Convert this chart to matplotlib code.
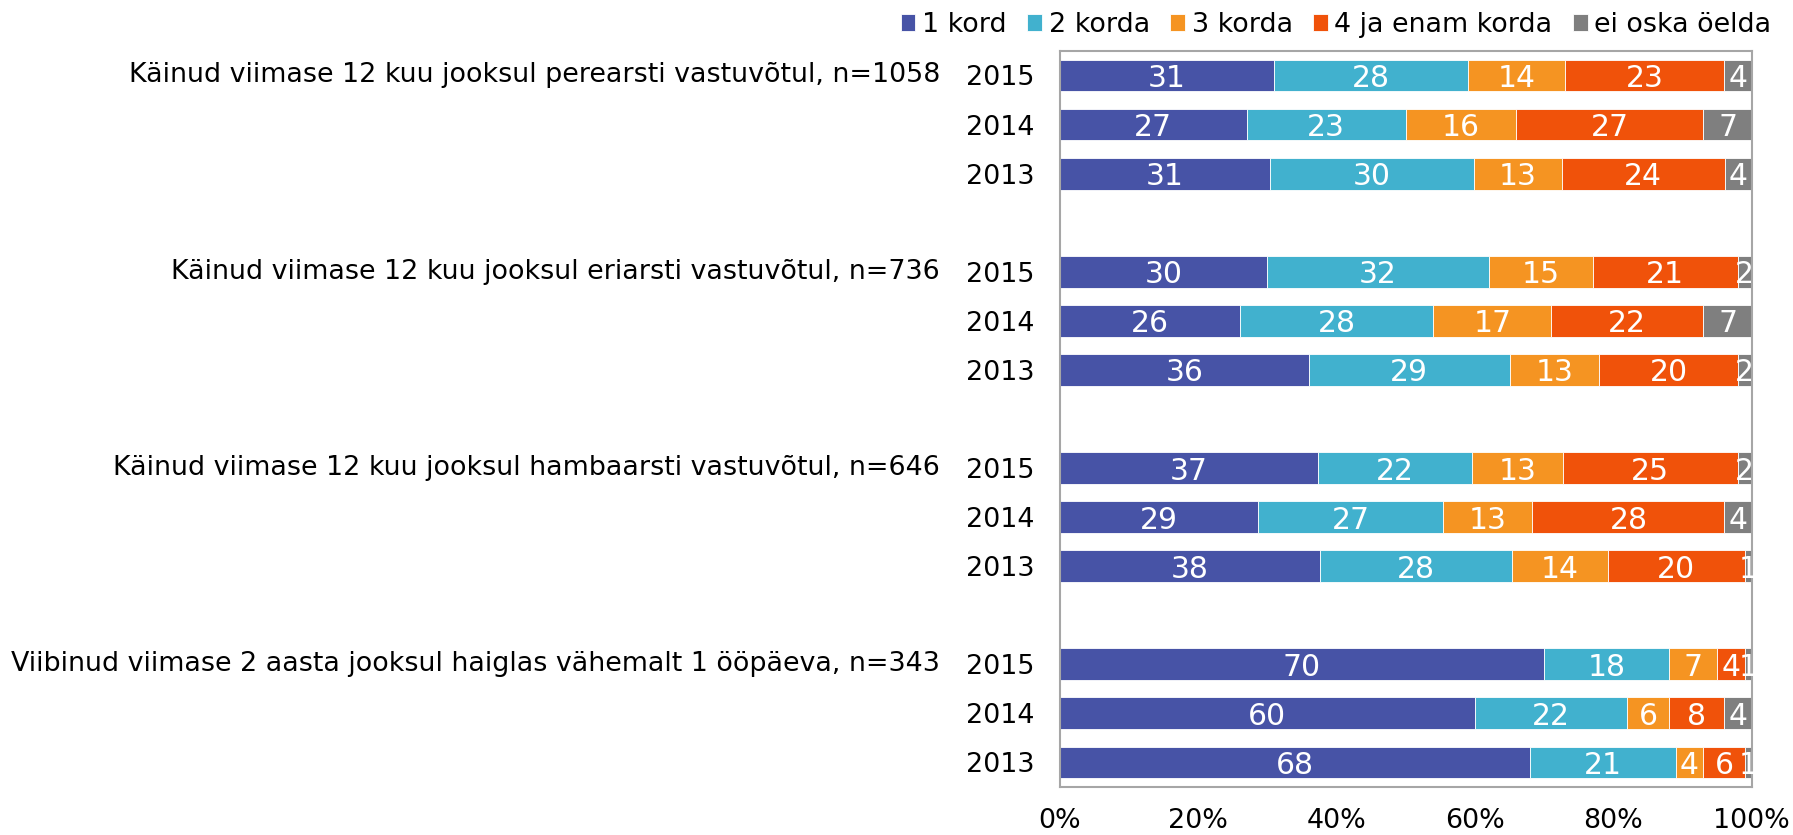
import numpy as np
import matplotlib
matplotlib.use("Agg")
from matplotlib import pyplot as plt, transforms

categories = [
    "Käinud viimase 12 kuu jooksul perearsti vastuvõtul, n=1058",
    "Käinud viimase 12 kuu jooksul eriarsti vastuvõtul, n=736",
    "Käinud viimase 12 kuu jooksul hambaarsti vastuvõtul, n=646",
    "Viibinud viimase 2 aasta jooksul haiglas vähemalt 1 ööpäeva, n=343",
]
years = ["2015", "2014", "2013"]
series = ["1 kord", "2 korda", "3 korda", "4 ja enam korda", "ei oska öelda"]
colors = ["#4753A6", "#41B1CE", "#F59422", "#F0520A", "#7F7F7F"]

# rows: category x year (2015, 2014, 2013), columns: series
perearst = [[31, 28, 14, 23, 4], [27, 23, 16, 27, 7], [31, 30, 13, 24, 4]]
eriarst = [[30, 32, 15, 21, 2], [26, 28, 17, 22, 7], [36, 29, 13, 20, 2]]
hambaarst = [[37, 22, 13, 25, 2], [29, 27, 13, 28, 4], [38, 28, 14, 20, 1]]
haigla = [[70, 18, 7, 4, 1], [60, 22, 6, 8, 4], [68, 21, 4, 6, 1]]

groups = [perearst, eriarst, hambaarst, haigla]

fs = 19.4
plt.rcParams["font.family"] = ["DejaVu Sans"]
fig = plt.figure(figsize=(17.93, 8.35), dpi=100)
ax = fig.add_axes([0.591, 0.0575, 0.386, 0.8815])

ypos = []
ylabels = []
for g, grp in enumerate(groups):
    for i, row in enumerate(grp):
        y = g * 4 + i
        ypos.append(y)
        ylabels.append(years[i])
        vals = np.array(row, dtype=float)
        widths = vals / vals.sum()
        left = 0.0
        for k in range(len(series)):
            ax.barh(y, widths[k], left=left, height=0.65, color=colors[k],
                    edgecolor="white", linewidth=0.6,
                    label=series[k] if (g == 0 and i == 0) else None)
            ax.text(left + widths[k] / 2, y, str(row[k]), ha="center",
                    va="center_baseline", color="white", fontsize=21.5)
            left += widths[k]

ax.set_ylim(14.5, -0.5)
ax.set_xlim(0, 1)
ax.set_yticks(ypos)
ax.set_yticklabels(ylabels, fontsize=fs)
ax.set_xticks([0, 0.2, 0.4, 0.6, 0.8, 1.0])
ax.set_xticklabels(["0%", "20%", "40%", "60%", "80%", "100%"], fontsize=fs)
ax.tick_params(axis="both", length=0)
ax.tick_params(axis="y", pad=18)
ax.tick_params(axis="x", pad=15)
for s in ax.spines.values():
    s.set_color("#A6A6A6")
    s.set_linewidth(1.5)

trans = transforms.blended_transform_factory(fig.transFigure, ax.transData)
for g, cat in enumerate(categories):
    fig.text(0.5243, g * 4, cat, ha="right", va="center", fontsize=fs, transform=trans)

fig.legend(loc="upper right", bbox_to_anchor=(0.997, 1.005), ncol=5, frameon=False,
           fontsize=fs, handlelength=0.55, handleheight=0.55, handletextpad=0.25,
           columnspacing=0.75, borderaxespad=0.2)

fig.savefig("out.png", dpi=100)
